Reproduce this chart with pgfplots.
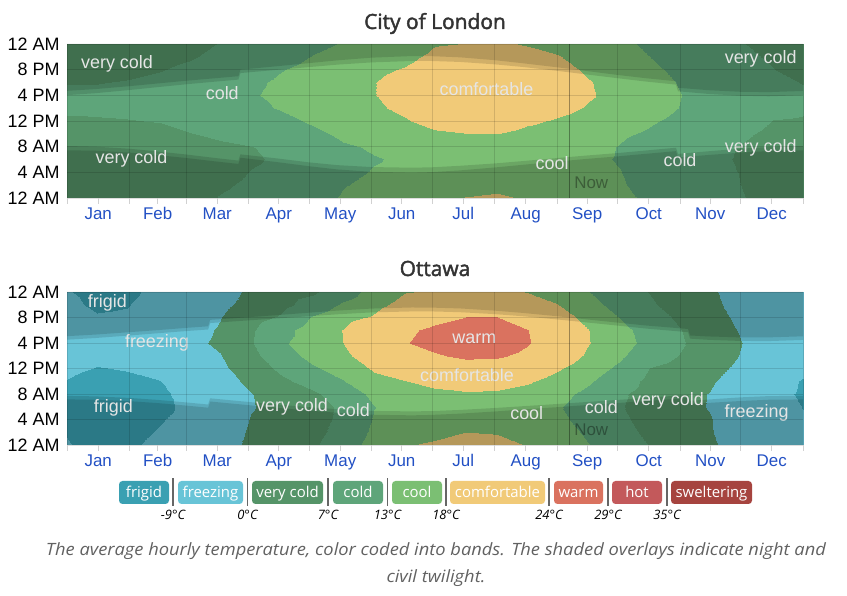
\documentclass[border=0pt]{standalone}
\usepackage{fontspec}
\setmainfont{Liberation Sans}
\newfontfamily\osans{Open Sans}
\newfontfamily\titlefont{Open Sans}[FakeBold=2]
\usepackage{pgfplots}
\pgfplotsset{compat=1.18}
\definecolor{frigid}{RGB}{58,160,178}
\definecolor{freezing}{RGB}{104,196,215}
\definecolor{verycold}{RGB}{85,148,104}
\definecolor{cold}{RGB}{94,165,122}
\definecolor{cool}{RGB}{123,191,115}
\definecolor{comfortable}{RGB}{241,202,120}
\definecolor{warm}{RGB}{218,114,95}
\definecolor{hot}{RGB}{195,89,91}
\definecolor{sweltering}{RGB}{166,68,63}
\definecolor{monthblue}{RGB}{34,80,196}
\definecolor{titlegray}{RGB}{51,51,51}
\tikzset{
  lab/.style={font=\fontsize{18}{18}\selectfont, text=white!90!black},
  nowlab/.style={font=\fontsize{17}{17}\selectfont, text=black, text opacity=0.35},
}
\pgfplotsset{
  colormap={temps}{color(0pt)=(frigid) color(21pt)=(freezing) color(30pt)=(verycold) color(37pt)=(cold) color(43pt)=(cool) color(48pt)=(comfortable) color(54pt)=(warm) color(59pt)=(hot) color(65pt)=(sweltering) color(75pt)=(sweltering)},
  panel/.style={
    anchor=south west, scale only axis, width=736bp,
    xmin=0, xmax=365, ymin=0, ymax=24,
    axis line style={draw=none},
    axis on top,
    colormap name=temps, colormap access=piecewise constant,
    point meta min=-30, point meta max=45,
    xtick={0,31,59,90,120,151,181,212,243,273,304,334,365}, xticklabels={},
    tick pos=left, tick align=outside, major tick length=6bp,
    xtick style={draw=black!18, line width=0.8bp},
    ytick={0,4,8,12,16,20,24},
    yticklabels={12 AM,4 AM,8 AM,12 PM,4 PM,8 PM,12 AM},
    ytick style={draw=none},
    yticklabel style={font=\fontsize{18}{18}\selectfont, text=black, xshift=2bp},
    grid=major, grid style={black, opacity=0.13, line width=0.7bp},
    extra x ticks={15.5,45,74.5,105,135.5,166,196.5,227.5,258,288.5,319,349.5},
    extra x tick labels={Jan,Feb,Mar,Apr,May,Jun,Jul,Aug,Sep,Oct,Nov,Dec},
    extra x tick style={grid=none, tick style={draw=none}, xticklabel style={font=\fontsize{17}{17}\selectfont, text=monthblue}},
  },
  night/.style={draw=none, fill=black, fill opacity=0.13, forget plot},
}
\begin{document}
\begin{tikzpicture}[x=1bp,y=1bp]
\useasboundingbox (0,0) rectangle (847,596);
\node[anchor=base, font=\titlefont\fontsize{21}{21}\selectfont, text=titlegray] at (435,567) {City of London};
\begin{axis}[panel, at={(67bp,398bp)}, height=154bp]
\addplot[surf, shader=interp, mesh/ordering=y varies, mesh/rows=13, mesh/cols=25, point meta=\thisrow{T}] table[x=d, y=h, row sep=\\] {
d h T\\
0 0 5.0\\ 0 2 4.5\\ 0 4 4.0\\ 0 6 3.8\\ 0 8 4.0\\ 0 10 5.2\\ 0 12 6.6\\ 0 14 7.6\\ 0 16 7.8\\ 0 18 6.8\\ 0 20 5.8\\ 0 22 5.3\\ 0 24 5.0\\
15 0 4.6\\ 15 2 4.2\\ 15 4 3.8\\ 15 6 3.5\\ 15 8 3.7\\ 15 10 5.0\\ 15 12 6.6\\ 15 14 7.8\\ 15 16 8.0\\ 15 18 6.8\\ 15 20 5.7\\ 15 22 5.0\\ 15 24 4.6\\
30 0 4.5\\ 30 2 4.0\\ 30 4 3.6\\ 30 6 3.3\\ 30 8 3.6\\ 30 10 5.0\\ 30 12 6.8\\ 30 14 8.1\\ 30 16 8.4\\ 30 18 7.2\\ 30 20 6.0\\ 30 22 5.0\\ 30 24 4.5\\
46 0 4.8\\ 46 2 4.2\\ 46 4 3.8\\ 46 6 3.5\\ 46 8 4.0\\ 46 10 5.6\\ 46 12 7.2\\ 46 14 8.6\\ 46 16 9.0\\ 46 18 8.0\\ 46 20 6.8\\ 46 22 5.6\\ 46 24 4.8\\
61 0 5.6\\ 61 2 5.0\\ 61 4 4.5\\ 61 6 4.2\\ 61 8 5.0\\ 61 10 6.8\\ 61 12 8.6\\ 61 14 10.0\\ 61 16 10.4\\ 61 18 9.6\\ 61 20 8.0\\ 61 22 6.6\\ 61 24 5.6\\
76 0 7.2\\ 76 2 6.5\\ 76 4 5.8\\ 76 6 5.4\\ 76 8 6.2\\ 76 10 7.8\\ 76 12 9.8\\ 76 14 11.4\\ 76 16 12.0\\ 76 18 11.2\\ 76 20 9.6\\ 76 22 8.2\\ 76 24 7.2\\
91 0 8.2\\ 91 2 7.6\\ 91 4 7.1\\ 91 6 6.6\\ 91 8 6.9\\ 91 10 8.8\\ 91 12 10.8\\ 91 14 12.1\\ 91 16 12.5\\ 91 18 12.0\\ 91 20 10.8\\ 91 22 9.4\\ 91 24 8.2\\
106 0 9.0\\ 106 2 8.3\\ 106 4 7.8\\ 106 6 7.5\\ 106 8 8.0\\ 106 10 9.8\\ 106 12 11.8\\ 106 14 13.3\\ 106 16 14.2\\ 106 18 13.8\\ 106 20 12.8\\ 106 22 10.8\\ 106 24 9.0\\
122 0 11.6\\ 122 2 10.6\\ 122 4 9.8\\ 122 6 9.4\\ 122 8 10.4\\ 122 10 12.0\\ 122 12 13.6\\ 122 14 15.2\\ 122 16 16.0\\ 122 18 15.8\\ 122 20 14.8\\ 122 22 13.3\\ 122 24 11.6\\
137 0 13.4\\ 137 2 12.8\\ 137 4 12.2\\ 137 6 11.8\\ 137 8 12.5\\ 137 10 13.8\\ 137 12 15.0\\ 137 14 16.4\\ 137 16 17.2\\ 137 18 17.2\\ 137 20 16.4\\ 137 22 15.0\\ 137 24 13.4\\
152 0 14.6\\ 152 2 13.8\\ 152 4 13.2\\ 152 6 12.8\\ 152 8 13.4\\ 152 10 14.8\\ 152 12 16.2\\ 152 14 17.4\\ 152 16 17.9\\ 152 18 17.9\\ 152 20 17.2\\ 152 22 16.0\\ 152 24 14.6\\
167 0 15.0\\ 167 2 14.2\\ 167 4 13.6\\ 167 6 13.4\\ 167 8 14.4\\ 167 10 16.0\\ 167 12 17.6\\ 167 14 18.8\\ 167 16 19.4\\ 167 18 19.3\\ 167 20 18.3\\ 167 22 16.8\\ 167 24 15.0\\
182 0 17.7\\ 182 2 16.6\\ 182 4 15.8\\ 182 6 15.5\\ 182 8 16.5\\ 182 10 17.3\\ 182 12 19.4\\ 182 14 20.8\\ 182 16 21.6\\ 182 18 21.4\\ 182 20 20.4\\ 182 22 19.0\\ 182 24 17.7\\
198 0 18.1\\ 198 2 17.0\\ 198 4 16.2\\ 198 6 15.9\\ 198 8 16.8\\ 198 10 17.9\\ 198 12 19.8\\ 198 14 21.4\\ 198 16 22.4\\ 198 18 22.2\\ 198 20 21.2\\ 198 22 19.8\\ 198 24 18.1\\
213 0 18.4\\ 213 2 17.3\\ 213 4 16.5\\ 213 6 16.2\\ 213 8 16.9\\ 213 10 18.0\\ 213 12 20.0\\ 213 14 21.6\\ 213 16 22.6\\ 213 18 22.4\\ 213 20 21.4\\ 213 22 20.0\\ 213 24 18.4\\
228 0 17.8\\ 228 2 16.9\\ 228 4 16.2\\ 228 6 15.9\\ 228 8 16.5\\ 228 10 17.0\\ 228 12 18.6\\ 228 14 20.8\\ 228 16 21.6\\ 228 18 21.2\\ 228 20 20.2\\ 228 22 19.0\\ 228 24 17.8\\
243 0 16.8\\ 243 2 15.9\\ 243 4 15.3\\ 243 6 15.0\\ 243 8 15.5\\ 243 10 16.4\\ 243 12 17.6\\ 243 14 19.2\\ 243 16 20.4\\ 243 18 20.2\\ 243 20 19.4\\ 243 22 18.3\\ 243 24 16.8\\
259 0 15.4\\ 259 2 14.6\\ 259 4 14.0\\ 259 6 13.8\\ 259 8 14.2\\ 259 10 15.2\\ 259 12 16.4\\ 259 14 17.6\\ 259 16 18.4\\ 259 18 18.2\\ 259 20 17.4\\ 259 22 16.4\\ 259 24 15.4\\
274 0 14.0\\ 274 2 13.4\\ 274 4 13.1\\ 274 6 12.7\\ 274 8 12.8\\ 274 10 13.6\\ 274 12 15.0\\ 274 14 16.2\\ 274 16 16.6\\ 274 18 16.2\\ 274 20 15.4\\ 274 22 14.6\\ 274 24 14.0\\
289 0 12.2\\ 289 2 11.6\\ 289 4 11.1\\ 289 6 10.8\\ 289 8 11.2\\ 289 10 12.4\\ 289 12 13.5\\ 289 14 14.6\\ 289 16 14.9\\ 289 18 14.6\\ 289 20 13.9\\ 289 22 13.0\\ 289 24 12.2\\
304 0 10.6\\ 304 2 10.0\\ 304 4 9.6\\ 304 6 9.3\\ 304 8 9.6\\ 304 10 10.8\\ 304 12 12.0\\ 304 14 12.9\\ 304 16 13.1\\ 304 18 12.7\\ 304 20 12.0\\ 304 22 11.3\\ 304 24 10.6\\
319 0 9.0\\ 319 2 8.5\\ 319 4 8.1\\ 319 6 7.8\\ 319 8 8.0\\ 319 10 9.0\\ 319 12 10.2\\ 319 14 11.0\\ 319 16 11.1\\ 319 18 10.6\\ 319 20 10.0\\ 319 22 9.5\\ 319 24 9.0\\
335 0 7.1\\ 335 2 6.9\\ 335 4 6.8\\ 335 6 6.6\\ 335 8 6.7\\ 335 10 7.6\\ 335 12 8.8\\ 335 14 9.6\\ 335 16 9.7\\ 335 18 9.0\\ 335 20 8.2\\ 335 22 7.6\\ 335 24 7.1\\
350 0 6.0\\ 350 2 5.6\\ 350 4 5.2\\ 350 6 5.0\\ 350 8 5.2\\ 350 10 6.0\\ 350 12 6.9\\ 350 14 8.2\\ 350 16 8.6\\ 350 18 8.0\\ 350 20 7.1\\ 350 22 6.6\\ 350 24 6.0\\
365 0 5.0\\ 365 2 4.5\\ 365 4 4.0\\ 365 6 3.8\\ 365 8 4.0\\ 365 10 5.2\\ 365 12 6.6\\ 365 14 7.6\\ 365 16 7.8\\ 365 18 6.8\\ 365 20 5.8\\ 365 22 5.3\\ 365 24 5.0\\
};
\addplot[night] coordinates {(0,0) (0,8.10) (14,8.00) (31,7.67) (45,7.25) (59,6.78) (73,6.25) (85,5.83) (86,6.80) (104,6.17) (120,5.55) (134,5.12) (151,4.82) (171,4.72) (181,4.78) (195,5.02) (212,5.38) (226,5.75) (243,6.22) (257,6.60) (273,7.00) (287,7.40) (302,7.83) (303,6.87) (318,7.28) (334,7.68) (348,7.95) (365,8.10) (365,0)};
\addplot[night] coordinates {(0,0) (0,7.43) (14,7.37) (31,7.07) (45,6.68) (59,6.23) (73,5.72) (85,5.30) (86,6.27) (104,5.60) (120,4.95) (134,4.45) (151,4.08) (171,3.95) (181,4.03) (195,4.30) (212,4.75) (226,5.17) (243,5.67) (257,6.07) (273,6.48) (287,6.88) (302,7.30) (303,6.32) (318,6.70) (334,7.07) (348,7.30) (365,7.43) (365,0)};
\addplot[night] coordinates {(0,24) (0,16.03) (14,16.33) (31,16.83) (45,17.28) (59,17.72) (73,18.12) (85,18.45) (86,19.47) (104,19.97) (120,20.40) (134,20.78) (151,21.13) (171,21.35) (181,21.35) (195,21.20) (212,20.83) (226,20.42) (243,19.82) (257,19.28) (273,18.67) (287,18.15) (302,17.67) (303,16.63) (318,16.22) (334,15.93) (348,15.85) (365,16.02) (365,24)};
\addplot[night] coordinates {(0,24) (0,16.70) (14,16.97) (31,17.43) (45,17.85) (59,18.27) (73,18.65) (85,18.98) (86,20.00) (104,20.53) (120,21.02) (134,21.45) (151,21.87) (171,22.12) (181,22.10) (195,21.92) (212,21.48) (226,21.00) (243,20.37) (257,19.82) (273,19.18) (287,18.67) (302,18.20) (303,17.18) (318,16.80) (334,16.55) (348,16.50) (365,16.68) (365,24)};
\addplot[black, opacity=0.35, line width=1.2bp, forget plot] coordinates {(249,0) (249,24)};
\node[lab] at (axis cs:24.8,20.9) {very cold};
\node[lab] at (axis cs:77,16.4) {cold};
\node[lab] at (axis cs:208,17) {comfortable};
\node[lab] at (axis cs:32,6.1) {very cold};
\node[lab] at (axis cs:240.6,5.5) {cool};
\node[lab] at (axis cs:304,5.9) {cold};
\node[lab] at (axis cs:344,21.7) {very cold};
\node[lab] at (axis cs:344,7.8) {very cold};
\node[nowlab] at (axis cs:260,2.3) {Now};
\end{axis}

\node[anchor=base, font=\titlefont\fontsize{21}{21}\selectfont, text=titlegray] at (435,320) {Ottawa};
\begin{axis}[panel, at={(67bp,151bp)}, height=153bp]
\addplot[surf, shader=interp, mesh/ordering=y varies, mesh/rows=13, mesh/cols=25, point meta=\thisrow{T}] table[x=d, y=h, row sep=\\] {
d h T\\
0 0 -8.6\\ 0 2 -9.3\\ 0 4 -10.0\\ 0 6 -10.4\\ 0 8 -10.2\\ 0 10 -9.2\\ 0 12 -7.6\\ 0 14 -6.2\\ 0 16 -5.8\\ 0 18 -6.6\\ 0 20 -7.6\\ 0 22 -8.2\\ 0 24 -8.6\\
15 0 -11.0\\ 15 2 -11.8\\ 15 4 -12.4\\ 15 6 -12.8\\ 15 8 -12.6\\ 15 10 -11.2\\ 15 12 -9.2\\ 15 14 -7.6\\ 15 16 -7.0\\ 15 18 -7.8\\ 15 20 -8.7\\ 15 22 -9.6\\ 15 24 -11.0\\
30 0 -10.0\\ 30 2 -10.8\\ 30 4 -11.4\\ 30 6 -11.8\\ 30 8 -11.5\\ 30 10 -10.2\\ 30 12 -8.6\\ 30 14 -7.0\\ 30 16 -6.4\\ 30 18 -7.2\\ 30 20 -8.4\\ 30 22 -9.2\\ 30 24 -10.0\\
46 0 -7.6\\ 46 2 -8.6\\ 46 4 -9.4\\ 46 6 -10.2\\ 46 8 -9.9\\ 46 10 -9.1\\ 46 12 -7.0\\ 46 14 -5.2\\ 46 16 -4.6\\ 46 18 -5.3\\ 46 20 -6.4\\ 46 22 -7.0\\ 46 24 -7.6\\
61 0 -5.8\\ 61 2 -6.6\\ 61 4 -7.4\\ 61 6 -7.8\\ 61 8 -7.4\\ 61 10 -5.6\\ 61 12 -3.6\\ 61 14 -2.0\\ 61 16 -1.4\\ 61 18 -2.2\\ 61 20 -3.6\\ 61 22 -4.8\\ 61 24 -5.8\\
76 0 -3.4\\ 76 2 -4.0\\ 76 4 -4.6\\ 76 6 -5.0\\ 76 8 -4.4\\ 76 10 -2.8\\ 76 12 -1.4\\ 76 14 -0.3\\ 76 16 1.0\\ 76 18 0.6\\ 76 20 -0.3\\ 76 22 -1.8\\ 76 24 -3.4\\
91 0 1.6\\ 91 2 0.9\\ 91 4 0.3\\ 91 6 -0.4\\ 91 8 -0.2\\ 91 10 1.6\\ 91 12 3.6\\ 91 14 5.4\\ 91 16 6.6\\ 91 18 6.3\\ 91 20 4.8\\ 91 22 2.6\\ 91 24 1.6\\
106 0 4.0\\ 106 2 3.2\\ 106 4 2.6\\ 106 6 2.3\\ 106 8 3.0\\ 106 10 5.8\\ 106 12 8.4\\ 106 14 10.6\\ 106 16 12.2\\ 106 18 11.0\\ 106 20 7.6\\ 106 22 5.4\\ 106 24 4.0\\
122 0 6.2\\ 122 2 5.2\\ 122 4 4.6\\ 122 6 4.4\\ 122 8 6.0\\ 122 10 9.4\\ 122 12 12.4\\ 122 14 14.6\\ 122 16 15.8\\ 122 18 15.6\\ 122 20 13.4\\ 122 22 9.6\\ 122 24 6.2\\
137 0 10.4\\ 137 2 9.2\\ 137 4 8.4\\ 137 6 8.2\\ 137 8 10.0\\ 137 10 12.8\\ 137 12 15.2\\ 137 14 17.0\\ 137 16 18.0\\ 137 18 18.1\\ 137 20 16.6\\ 137 22 13.8\\ 137 24 10.4\\
152 0 15.0\\ 152 2 14.0\\ 152 4 13.3\\ 152 6 12.9\\ 152 8 14.2\\ 152 10 16.8\\ 152 12 18.6\\ 152 14 20.6\\ 152 16 21.8\\ 152 18 21.4\\ 152 20 18.4\\ 152 22 16.8\\ 152 24 15.0\\
167 0 17.8\\ 167 2 16.6\\ 167 4 15.6\\ 167 6 15.2\\ 167 8 16.4\\ 167 10 17.9\\ 167 12 20.6\\ 167 14 22.6\\ 167 16 23.8\\ 167 18 23.4\\ 167 20 21.6\\ 167 22 19.4\\ 167 24 17.8\\
182 0 18.4\\ 182 2 17.2\\ 182 4 16.2\\ 182 6 15.8\\ 182 8 17.2\\ 182 10 19.0\\ 182 12 21.4\\ 182 14 23.6\\ 182 16 25.0\\ 182 18 24.6\\ 182 20 23.0\\ 182 22 20.8\\ 182 24 18.4\\
198 0 19.2\\ 198 2 18.0\\ 198 4 17.0\\ 198 6 16.6\\ 198 8 17.6\\ 198 10 19.8\\ 198 12 22.4\\ 198 14 24.6\\ 198 16 26.0\\ 198 18 25.6\\ 198 20 24.0\\ 198 22 21.6\\ 198 24 19.2\\
213 0 18.9\\ 213 2 17.8\\ 213 4 16.8\\ 213 6 16.4\\ 213 8 17.4\\ 213 10 19.6\\ 213 12 22.2\\ 213 14 24.4\\ 213 16 25.8\\ 213 18 25.4\\ 213 20 24.0\\ 213 22 21.4\\ 213 24 18.9\\
228 0 17.9\\ 228 2 16.8\\ 228 4 15.9\\ 228 6 15.5\\ 228 8 16.4\\ 228 10 18.6\\ 228 12 21.2\\ 228 14 23.2\\ 228 16 24.3\\ 228 18 24.1\\ 228 20 22.6\\ 228 22 20.2\\ 228 24 17.9\\
243 0 16.4\\ 243 2 15.0\\ 243 4 14.0\\ 243 6 13.4\\ 243 8 14.4\\ 243 10 16.4\\ 243 12 18.6\\ 243 14 20.8\\ 243 16 22.0\\ 243 18 21.6\\ 243 20 20.0\\ 243 22 18.2\\ 243 24 16.4\\
259 0 13.1\\ 259 2 12.2\\ 259 4 11.4\\ 259 6 11.0\\ 259 8 11.8\\ 259 10 13.6\\ 259 12 15.6\\ 259 14 17.2\\ 259 16 18.1\\ 259 18 18.0\\ 259 20 16.6\\ 259 22 14.8\\ 259 24 13.1\\
274 0 9.8\\ 274 2 8.8\\ 274 4 8.0\\ 274 6 7.4\\ 274 8 7.8\\ 274 10 9.8\\ 274 12 12.0\\ 274 14 13.8\\ 274 16 15.2\\ 274 18 14.6\\ 274 20 12.8\\ 274 22 11.0\\ 274 24 9.8\\
289 0 6.8\\ 289 2 5.8\\ 289 4 5.0\\ 289 6 4.6\\ 289 8 4.8\\ 289 10 5.6\\ 289 12 6.9\\ 289 14 9.6\\ 289 16 11.2\\ 289 18 10.6\\ 289 20 9.4\\ 289 22 7.8\\ 289 24 6.8\\
304 0 3.4\\ 304 2 2.6\\ 304 4 2.0\\ 304 6 1.6\\ 304 8 1.8\\ 304 10 3.0\\ 304 12 5.0\\ 304 14 6.8\\ 304 16 7.6\\ 304 18 7.2\\ 304 20 6.0\\ 304 22 4.6\\ 304 24 3.4\\
319 0 1.0\\ 319 2 0.4\\ 319 4 0.3\\ 319 6 -0.3\\ 319 8 -0.2\\ 319 10 0.8\\ 319 12 2.4\\ 319 14 3.8\\ 319 16 4.2\\ 319 18 3.6\\ 319 20 2.6\\ 319 22 1.6\\ 319 24 1.0\\
335 0 -3.2\\ 335 2 -3.8\\ 335 4 -4.4\\ 335 6 -4.8\\ 335 8 -4.6\\ 335 10 -3.4\\ 335 12 -1.8\\ 335 14 -0.6\\ 335 16 -0.1\\ 335 18 -0.8\\ 335 20 -1.8\\ 335 22 -2.6\\ 335 24 -3.2\\
350 0 -6.0\\ 350 2 -6.6\\ 350 4 -7.2\\ 350 6 -7.6\\ 350 8 -7.6\\ 350 10 -6.8\\ 350 12 -5.2\\ 350 14 -4.0\\ 350 16 -3.6\\ 350 18 -4.2\\ 350 20 -5.0\\ 350 22 -5.6\\ 350 24 -6.0\\
365 0 -7.6\\ 365 2 -8.2\\ 365 4 -8.6\\ 365 6 -9.1\\ 365 8 -9.6\\ 365 10 -9.4\\ 365 12 -7.4\\ 365 14 -6.0\\ 365 16 -5.6\\ 365 18 -6.2\\ 365 20 -7.0\\ 365 22 -7.4\\ 365 24 -7.6\\
};
\addplot[night] coordinates {(0,0) (0,7.70) (14,7.63) (31,7.38) (45,7.07) (59,6.68) (70,6.35) (71,7.32) (90,6.75) (104,6.35) (120,5.93) (134,5.62) (151,5.35) (171,5.27) (181,5.32) (195,5.50) (212,5.80) (226,6.08) (243,6.43) (257,6.73) (273,7.07) (287,7.38) (308,7.88) (309,6.92) (318,7.13) (334,7.47) (348,7.67) (365,7.72) (365,0)};
\addplot[night] coordinates {(0,0) (0,7.15) (14,7.10) (31,6.87) (45,6.57) (59,6.18) (70,5.85) (71,6.82) (90,6.25) (104,5.83) (120,5.40) (134,5.05) (151,4.75) (171,4.65) (181,4.72) (195,4.92) (212,5.25) (226,5.57) (243,5.93) (257,6.25) (273,6.58) (287,6.90) (308,7.38) (309,6.40) (318,6.60) (334,6.90) (348,7.10) (365,7.15) (365,0)};
\addplot[night] coordinates {(0,24) (0,16.52) (14,16.78) (31,17.18) (45,17.53) (59,17.87) (70,18.12) (71,19.13) (90,19.55) (104,19.85) (120,20.20) (134,20.50) (151,20.80) (171,20.95) (181,20.95) (195,20.83) (212,20.53) (226,20.20) (243,19.70) (257,19.25) (273,18.73) (287,18.27) (308,17.70) (309,16.68) (318,16.50) (334,16.32) (348,16.30) (365,16.48) (365,24)};
\addplot[night] coordinates {(0,24) (0,17.07) (14,17.32) (31,17.70) (45,18.02) (59,18.37) (70,18.62) (71,19.63) (90,20.05) (104,20.37) (120,20.75) (134,21.08) (151,21.40) (171,21.57) (181,21.55) (195,21.42) (212,21.08) (226,20.72) (243,20.20) (257,19.73) (273,19.20) (287,18.75) (308,18.20) (309,17.18) (318,17.03) (334,16.88) (348,16.88) (365,17.05) (365,24)};
\addplot[black, opacity=0.35, line width=1.2bp, forget plot] coordinates {(249,0) (249,24)};
\node[lab] at (axis cs:20,22.3) {frigid};
\node[lab] at (axis cs:44.6,16) {freezing};
\node[lab] at (axis cs:23,5.8) {frigid};
\node[lab] at (axis cs:111.6,6) {very cold};
\node[lab] at (axis cs:142,5.5) {cold};
\node[lab] at (axis cs:202,16.6) {warm};
\node[lab] at (axis cs:198.4,11) {comfortable};
\node[lab] at (axis cs:228,5) {cool};
\node[lab] at (axis cs:265,6) {cold};
\node[lab] at (axis cs:298,6.9) {very cold};
\node[lab] at (axis cs:342,5) {freezing};
\node[nowlab] at (axis cs:260,2.35) {Now};
\end{axis}

% legend
\begin{scope}[font=\osans\fontsize{15}{15}\selectfont]
\foreach \xa/\xb/\c/\t in {119/169/frigid/frigid, 178/243/freezing/freezing, 252/323/verycold/very cold, 333/383/cold/cold, 392/442/cool/cool, 450/545/comfortable/comfortable, 554/603/warm/warm, 612/662/hot/hot, 671/752/sweltering/sweltering}{
  \fill[\c, rounded corners=3.5bp] (\xa,92) rectangle (\xb,115);
  \node[anchor=base, text=white] at ({(\xa+\xb)/2},98) {\t};
}
\end{scope}
\foreach \xs in {173,247.5,328,387.5,446,549,608,667}{
  \draw[black!60, line width=1.3bp] (\xs,90) -- (\xs,118);
}
\begin{scope}[font=\osans\itshape\fontsize{13}{13}\selectfont]
\foreach \xs/\t in {173/-9°C, 247.5/0°C, 328/7°C, 387.5/13°C, 446/18°C, 549/24°C, 608/29°C, 667/35°C}{
  \node[anchor=base] at (\xs,76) {\t};
}
\end{scope}
\node[anchor=base, transform shape, xscale=1.08, font=\osans\itshape\fontsize{17}{17}\selectfont, text=black!62] at (436,40) {The average hourly temperature, color coded into bands. The shaded overlays indicate night and};
\node[anchor=base, transform shape, xscale=1.08, font=\osans\itshape\fontsize{17}{17}\selectfont, text=black!62] at (436,13) {civil twilight.};
\end{tikzpicture}
\end{document}
